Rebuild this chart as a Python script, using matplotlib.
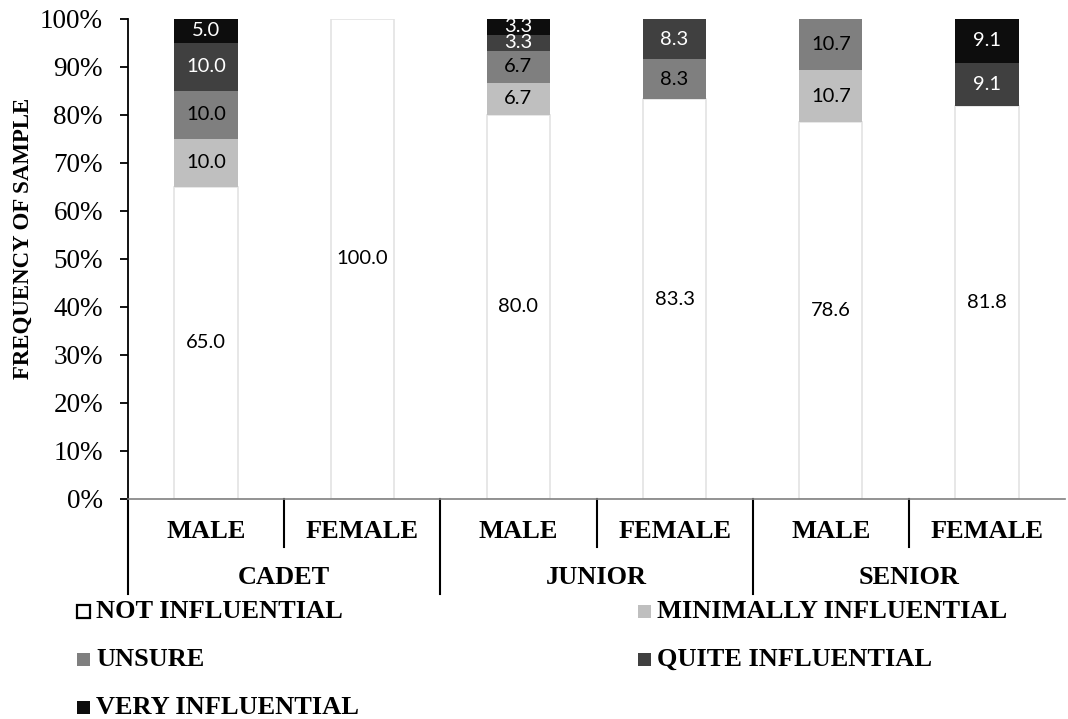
import matplotlib
matplotlib.use("Agg")
import matplotlib.pyplot as plt
import matplotlib.transforms as mtransforms
from matplotlib.patches import Rectangle
from matplotlib.ticker import PercentFormatter

# --- data -------------------------------------------------------------
groups = ["CADET", "JUNIOR", "SENIOR"]
sexes = ["MALE", "FEMALE", "MALE", "FEMALE", "MALE", "FEMALE"]
series_names = ["NOT INFLUENTIAL", "MINIMALLY INFLUENTIAL", "UNSURE",
                "QUITE INFLUENTIAL", "VERY INFLUENTIAL"]
not_influential = [65.0, 100.0, 80.0, 83.3, 78.6, 81.8]
minimally_influential = [10.0, 0.0, 6.7, 0.0, 10.7, 0.0]
unsure = [10.0, 0.0, 6.7, 8.3, 10.7, 0.0]
quite_influential = [10.0, 0.0, 3.3, 8.3, 0.0, 9.1]
very_influential = [5.0, 0.0, 3.3, 0.0, 0.0, 9.1]

series_values = [not_influential, minimally_influential, unsure,
                 quite_influential, very_influential]
face_colors = ["#ffffff", "#bfbfbf", "#7f7f7f", "#404040", "#0d0d0d"]
edge_widths = [1.2, 0, 0, 0, 0]
label_colors = ["black", "black", "black", "white", "white"]

SERIF = "Liberation Serif"
LABEL_FONT = "Lato"

W, H = 1068, 719
fig = plt.figure(figsize=(W / 100, H / 100), dpi=100)
ax = fig.add_axes([128 / W, 1 - 499 / H, (1065 - 128) / W, (499 - 19) / H])

x = list(range(len(sexes)))
bottom = [0.0] * len(sexes)
for vals, fc, ew, tc in zip(series_values, face_colors, edge_widths, label_colors):
    ax.bar(x, vals, bottom=bottom, width=0.405, color=fc,
           edgecolor="#e3e3e3" if ew else fc, linewidth=ew, zorder=2)
    for xi, b, v in zip(x, bottom, vals):
        if v > 0:
            ax.text(xi, b + v / 2, f"{v:.1f}", ha="center",
                    va="center", color=tc, fontsize=14.5, family=LABEL_FONT,
                    zorder=3)
    bottom = [b + v for b, v in zip(bottom, vals)]

ax.set_xlim(-0.5, len(sexes) - 0.5)
ax.set_ylim(0, 100)
ax.set_yticks(range(0, 101, 10))
ax.yaxis.set_major_formatter(PercentFormatter(decimals=0))
for lab in ax.get_yticklabels():
    lab.set_fontfamily(SERIF)
    lab.set_fontsize(19.5)
ax.tick_params(axis="y", direction="out", length=6, width=1.3, pad=12,
               colors="black")
ax.set_xticks([])

for side in ("top", "right"):
    ax.spines[side].set_visible(False)
ax.spines["left"].set_color("black")
ax.spines["left"].set_linewidth(1.3)
ax.spines["bottom"].set_color("#808080")
ax.spines["bottom"].set_linewidth(1.2)

# --- two-level category axis -------------------------------------------
trans = mtransforms.blended_transform_factory(ax.transData, ax.transAxes)
inner_y = -(547 - 499) / 480
outer_y = -(594 - 499) / 480
for i in range(len(sexes)):
    ax.text(i, -(531 - 499) / 480, sexes[i], transform=trans, ha="center",
            va="center", fontsize=19, fontweight="bold", family=SERIF)
for k, g in enumerate(groups):
    ax.text(2 * k + 0.5, -(578 - 499) / 480, g, transform=trans,
            ha="center", va="center", fontsize=19, fontweight="bold",
            family=SERIF)
for xs in [0.5, 2.5, 4.5]:
    ax.plot([xs, xs], [0, inner_y], transform=trans, color="black",
            lw=1.5, clip_on=False)
for xs in [-0.5, 1.5, 3.5]:
    ax.plot([xs, xs], [0, outer_y], transform=trans, color="black",
            lw=1.5, clip_on=False)

fig.text(23 / W, 1 - 238 / H, "FREQUENCY OF SAMPLE", rotation=90,
         ha="center", va="center", fontsize=16.5, fontweight="bold",
         family=SERIF)

# --- legend ----------------------------------------------------------------
legend_pos = [(77, 611), (638, 611), (77, 659), (638, 659), (77, 707)]
sq = 13
for name, fc, (lx, ly) in zip(series_names, face_colors, legend_pos):
    ec = "black" if fc == "#ffffff" else fc
    lw = 1.6 if fc == "#ffffff" else 0
    fig.patches.append(Rectangle((lx / W, 1 - (ly + sq / 2) / H), sq / W,
                                 sq / H, transform=fig.transFigure,
                                 facecolor=fc, edgecolor=ec, linewidth=lw))
    fig.text((lx + sq + 6) / W, 1 - ly / H, name, ha="left", va="center",
             fontsize=19, fontweight="bold", family=SERIF)

fig.savefig("out.png", dpi=100)
